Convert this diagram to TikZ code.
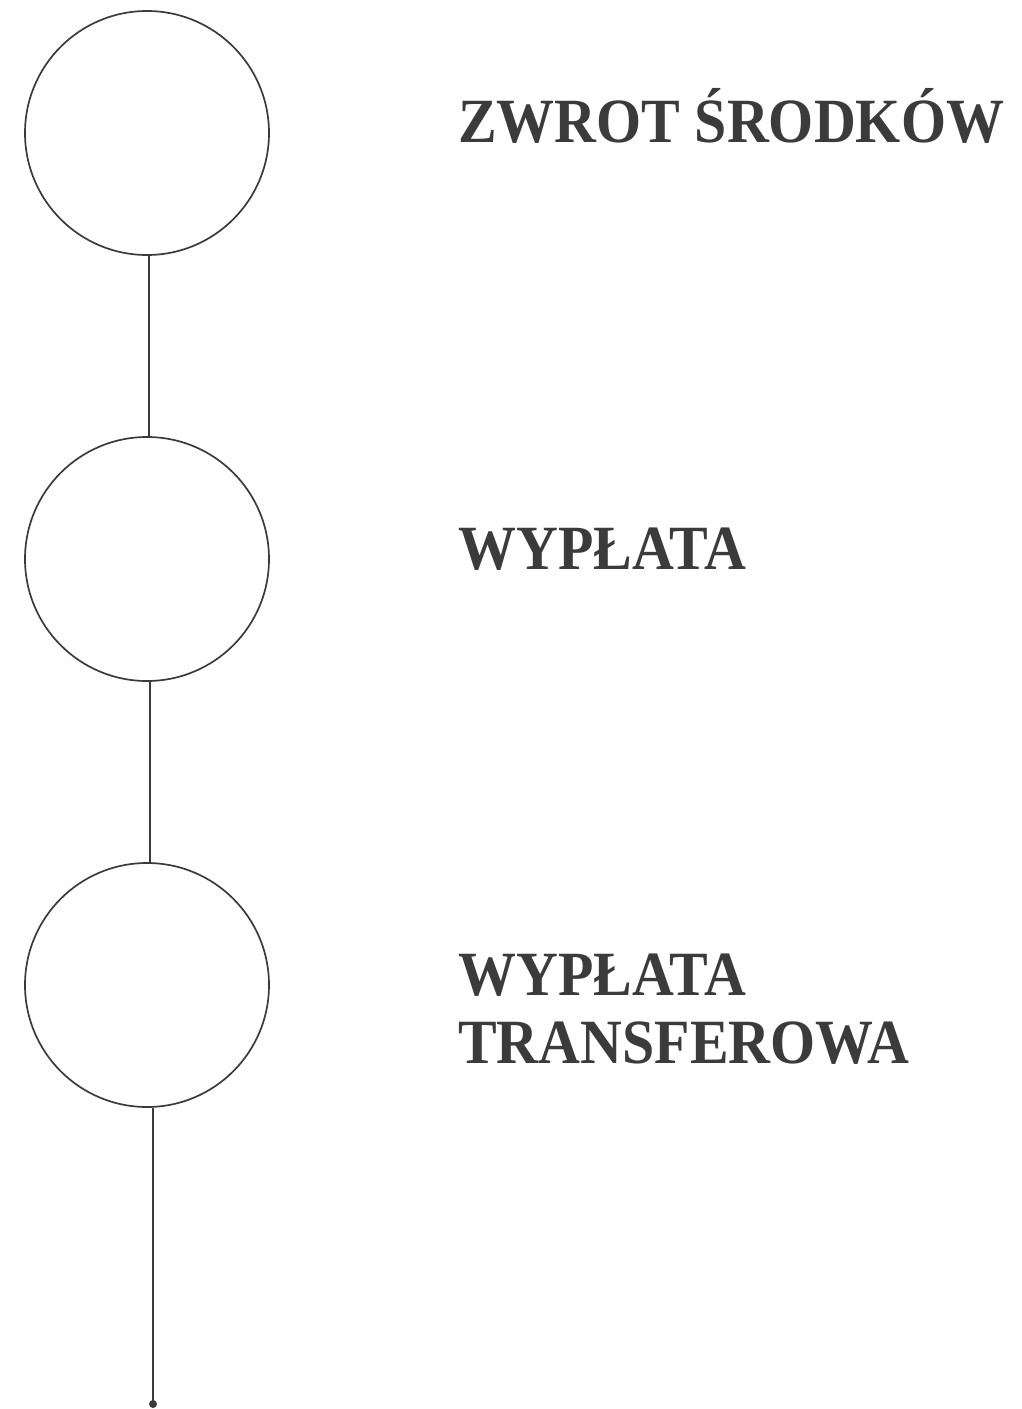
\documentclass[tikz,border=0pt]{standalone}
\usepackage{fontspec}
\setmainfont{Liberation Serif}
\definecolor{ink}{HTML}{3B3B3B}
\newcommand{\narrowtxt}[1]{\scalebox{0.92}[1]{#1}}
\begin{document}
\begin{tikzpicture}[x=1pt,y=-1pt,
  stage/.style={circle,draw=ink,line width=1.7pt,minimum size=244pt,inner sep=0pt},
  conn/.style={draw=ink,line width=1.7pt},
  lbl/.style={anchor=base west,text=ink,font=\fontsize{63}{68}\selectfont\bfseries,inner sep=0pt,align=left}]
\useasboundingbox (0,0) rectangle (1022,1409);
\node[stage] (c1) at (147,133) {};
\node[stage] (c2) at (147,559) {};
\node[stage] (c3) at (147,985) {};
\coordinate (end) at (153,1404);
\draw[conn] (c1.south -| 149,0) -- (c2.north -| 149,0);
\draw[conn] (c2.south -| 150,0) -- (c3.north -| 150,0);
\draw[conn] (c3.south -| end) -- (end);
\fill[ink] (end) circle (4);
\node[lbl] (t1) at (458,142) {\narrowtxt{ZWROT ŚRODKÓW}};
\node[lbl] (t2) at (458,569) {\narrowtxt{WYPŁATA}};
\node[lbl] (t3) at (458,1063) {\narrowtxt{WYPŁATA}\\\narrowtxt{TRANSFEROWA}};
\end{tikzpicture}
\end{document}
